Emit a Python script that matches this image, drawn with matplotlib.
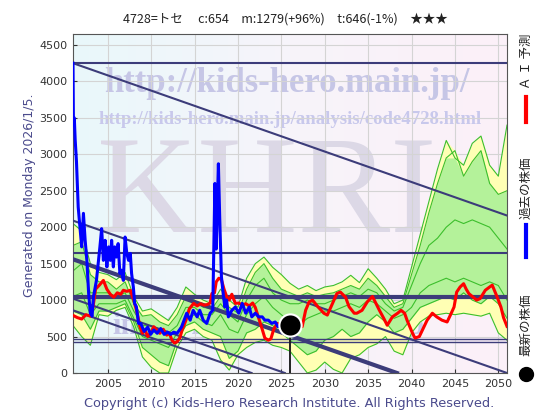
import numpy as np
import matplotlib
matplotlib.use('Agg')
import matplotlib.pyplot as plt
from matplotlib.colors import LinearSegmentedColormap
from matplotlib.lines import Line2D

# ---------------- data ----------------
title_text = "4728=トセ　 c:654　m:1279(+96%)　t:646(-1%)　★★★"
x_ticks = [2005, 2010, 2015, 2020, 2025, 2030, 2035, 2040, 2045, 2050]
y_ticks = [0, 500, 1000, 1500, 2000, 2500, 3000, 3500, 4000, 4500]

blue_x = [2001.0, 2001.05, 2001.15, 2001.25, 2001.4, 2001.6, 2001.8, 2002.0, 2002.2, 2002.4,
          2002.6, 2002.8, 2003.0, 2003.2, 2003.35, 2003.7, 2004.1, 2004.3, 2004.5, 2004.7,
          2004.9, 2005.1, 2005.3, 2005.45, 2005.65, 2005.8, 2006.0, 2006.2, 2006.4, 2006.6,
          2006.8, 2007.0, 2007.2, 2007.4, 2007.6, 2007.75, 2007.95, 2008.1, 2008.3, 2008.55,
          2008.8, 2009.2, 2009.6, 2009.95, 2010.3, 2010.7, 2011.1, 2011.5, 2011.9, 2012.25,
          2012.6, 2013.0, 2013.5, 2014.1, 2014.5, 2014.85, 2015.3, 2015.6, 2016.0, 2016.4,
          2016.8, 2017.1, 2017.35, 2017.5, 2017.75, 2017.9, 2018.1, 2018.3, 2018.5, 2018.7,
          2018.9, 2019.3, 2019.7, 2020.1, 2020.5, 2020.9, 2021.3, 2021.6, 2022.0, 2022.4,
          2022.8, 2023.1, 2023.5, 2023.9, 2024.3, 2024.6, 2025.0]
blue_y = [4250, 3400, 3500, 3200, 2900, 2275, 2000, 1730, 2190, 1820,
          1545, 1094, 820, 780, 1040, 1270, 1730, 1980, 1545, 1820,
          1455, 1730, 1545, 1820, 1455, 1730, 1590, 1775, 1365, 1410,
          1270, 1865, 1640, 1545, 1640, 1365, 1180, 955, 910, 680,
          680, 570, 630, 530, 590, 545, 610, 530, 560, 530,
          560, 545, 630, 820, 725, 860, 770, 860, 725, 680,
          820, 860, 2600, 1700, 2870, 2140, 1320, 1090, 905, 1000,
          770, 860, 905, 820, 955, 820, 905, 770, 820, 770,
          770, 725, 725, 680, 700, 635, 650]

red_x = [2001.0, 2001.5, 2002.0, 2002.5, 2003.0, 2003.3, 2003.6, 2004.0, 2004.5, 2004.9,
         2005.3, 2005.7, 2006.1, 2006.5, 2006.8, 2007.2, 2007.6, 2008.0, 2008.4, 2008.7,
         2009.0, 2009.3, 2009.6, 2010.0, 2010.3, 2010.7, 2011.0, 2011.4, 2011.8, 2012.1,
         2012.4, 2012.7, 2013.0, 2013.3, 2013.6, 2014.0, 2014.4, 2014.9, 2015.3, 2015.7,
         2016.1, 2016.5, 2016.8, 2017.0, 2017.3, 2017.5, 2017.8, 2018.1, 2018.4, 2018.7,
         2019.0, 2019.3, 2019.7, 2020.1, 2020.5, 2020.9, 2021.3, 2021.7, 2022.0, 2022.4,
         2022.8, 2023.1, 2023.5, 2023.8, 2024.1, 2024.5, 2025.0, 2025.6, 2026.2, 2026.8,
         2027.4, 2027.8, 2028.2, 2028.6, 2029.2, 2029.6, 2029.9, 2030.3, 2030.9, 2031.4,
         2031.8, 2032.4, 2032.8, 2033.4, 2033.7, 2034.3, 2034.9, 2035.5, 2035.9, 2036.3,
         2036.8, 2037.2, 2037.8, 2038.4, 2038.8, 2039.2, 2039.5, 2039.8, 2040.1, 2040.4,
         2040.9, 2041.3, 2041.8, 2042.4, 2042.9, 2043.5, 2044.1, 2044.5, 2044.9, 2045.2,
         2045.6, 2046.0, 2046.3, 2046.6, 2047.1, 2047.5, 2047.9, 2048.5, 2049.0, 2049.3,
         2049.7, 2050.0, 2050.3, 2050.6, 2051.0]
red_y = [790, 760, 740, 800, 780, 900, 1150, 1200, 1270, 1150,
         1080, 1040, 1100, 1080, 1135, 1120, 1135, 1000, 820, 640,
         545, 590, 500, 560, 635, 580, 545, 600, 520, 545,
         450, 410, 430, 480, 600, 720, 880, 955, 920, 950,
         930, 940, 960, 1090, 1100, 1250, 1300, 1280, 1150, 1050,
         1000, 1080, 955, 960, 930, 950, 920, 960, 900, 750,
         600, 480, 450, 470, 590, 680, 660, 645, 640, 635,
         635, 860, 975, 1000, 910, 860, 820, 795, 955, 1090,
         1110, 1040, 910, 820, 820, 860, 975, 1050, 955, 860,
         750, 655, 770, 820, 860, 820, 720, 635, 550, 480,
         500, 600, 725, 820, 770, 725, 700, 800, 905, 1110,
         1180, 1225, 1150, 1090, 1040, 1000, 1020, 1135, 1180, 1205,
         1090, 1000, 905, 760, 640]

green_years = list(range(2001, 2052))
green_a = [2050, 1950, 1500, 1380, 1350, 1280, 1380, 1050, 850, 880,
           800, 720, 900, 1180, 1080, 1000, 950, 1150, 1000, 900,
           1300, 1500, 1590, 1450, 1350, 1230, 1150, 1200, 1130, 1180,
           1200, 1250, 1340, 1240, 1430, 1300, 1150, 950, 1000, 1450,
           1900, 2350, 2800, 3190, 2950, 2850, 3150, 3250, 2850, 2700,
           3400]
green_b = [1750, 1800, 1350, 1250, 1250, 1150, 1250, 950, 780, 800,
           700, 650, 800, 1050, 1000, 900, 880, 1050, 900, 820,
           1150, 1380, 1500, 1300, 1150, 1100, 1050, 1100, 1050, 1080,
           1100, 1150, 1200, 1150, 1300, 1200, 1050, 900, 950, 1350,
           1750, 2200, 2600, 2950, 3050, 2700, 2900, 3050, 2600, 2450,
           2500]
green_c = [1400, 1500, 1100, 1100, 1100, 1050, 1100, 850, 650, 650,
           600, 550, 650, 900, 900, 800, 800, 950, 800, 700,
           1000, 1200, 1300, 1100, 1000, 950, 950, 1000, 950, 950,
           1000, 1050, 1100, 1050, 1150, 1100, 950, 850, 900, 1200,
           1500, 1750, 1850, 2000, 2100, 2050, 2100, 2050, 2000, 1850,
           1700]
green_d = [1050, 1100, 800, 950, 950, 950, 1000, 750, 500, 450,
           400, 350, 550, 750, 800, 700, 650, 800, 600, 550,
           800, 950, 1050, 900, 800, 700, 650, 750, 800, 850,
           850, 900, 950, 900, 1000, 950, 850, 750, 800, 900,
           1100, 1200, 1250, 1300, 1250, 1300, 1250, 1200, 1250, 1200,
           1000]
green_e = [850, 800, 600, 850, 850, 900, 950, 700, 350, 250,
           150, 100, 450, 650, 700, 600, 550, 500, 200, 300,
           550, 600, 700, 650, 550, 450, 350, 250, 300, 450,
           500, 600, 500, 550, 700, 800, 700, 550, 600, 750,
           900, 950, 1000, 1050, 1000, 1100, 1000, 950, 1050, 950,
           750]
green_f = [650, 500, 380, 800, 780, 860, 900, 630, 220, 80,
           0, 0, 350, 550, 600, 500, 450, 180, 40, 250,
           350, 420, 450, 380, 350, 300, 150, 0, 40, 150,
           50, 0, 200, 250, 350, 400, 500, 300, 250, 550,
           700, 780, 800, 820, 800, 820, 800, 780, 820, 550,
           450]

hlines = [4250, 1650, 1040, 465, 425]
hline_widths = [1.5, 1.5, 3.0, 1.0, 1.0]
diag_start_year = 2001
diag_slope = -41.8
diag_starts = [4250, 2090, 1560, 1020, 860]
diag_widths = [1.5, 1.5, 3.0, 1.5, 1.5]
latest_year = 2026.0
latest_value = 654

# ---------------- figure ----------------
plt.rcParams['font.family'] = ['DejaVu Sans']
cjk = ['Noto Sans CJK JP', 'DejaVu Sans']
navy = '#3c3c7a'
label_col = '#4a4a8c'

fig = plt.figure(figsize=(5.6, 4.2), dpi=100)
ax = fig.add_axes([73/560, 47/420, 434/560, 339/420])
X0, X1, Y0, Y1 = 2001, 2051, 0, 4650

grad = np.linspace(0, 1, 256).reshape(1, -1)
bg = LinearSegmentedColormap.from_list('bg', ['#e9f8fb', '#f7f4fa', '#fcf0f8'])
ax.imshow(grad, extent=[X0, X1, Y0, Y1], aspect='auto', cmap=bg, zorder=0)

# watermarks
wm = dict(family='Liberation Serif', ha='center', va='center', zorder=1)
ax.text(2025.6, 3970, 'http://kids-hero.main.jp/', fontsize=25, fontweight='bold', color='#c6c6e6', **wm)
ax.text(2026.0, 3480, 'http://kids-hero.main.jp/analysis/code4728.html', fontsize=13.5, fontweight='bold',
        color='#c8c8ec', **wm)
ax.text(2023.3, 2400, 'KHRI', fontsize=100, color='#dcd8e6', **wm)
ax.text(2023.5, 640, 'info@kids-hero.main.jp', fontsize=22, fontweight='bold', color='#c6c6e6', **wm)

# green ensemble
G = np.array([green_a, green_b, green_c, green_d, green_e, green_f], dtype=float)
Gs = np.sort(G, axis=0)
ax.fill_between(green_years, Gs[0], Gs[-1], color='#ffffb4', lw=0, zorder=2)
ax.fill_between(green_years, Gs[1], Gs[-2], color='#b4f29a', lw=0, zorder=2.1)
for g in G:
    ax.plot(green_years, g, color='#3cbf2c', lw=0.8, zorder=2.5)

# navy lines
for v, w in zip(hlines, hline_widths):
    ax.plot([X0, X1], [v, v], color=navy, lw=w, zorder=3, solid_capstyle='butt')
for s, w in zip(diag_starts, diag_widths):
    end_year = min(X1, diag_start_year - s / diag_slope)
    ax.plot([diag_start_year, end_year], [s, s + diag_slope * (end_year - diag_start_year)],
            color=navy, lw=w, zorder=3)

ax.plot(red_x, red_y, color='#ff0000', lw=2.2, zorder=4)
ax.plot(blue_x, blue_y, color='#0000ff', lw=2.2, zorder=5)

ax.plot([latest_year, latest_year], [0, latest_value], color='#222222', lw=1.4, zorder=6)
ax.plot([latest_year], [latest_value], 'o', ms=16, mfc='black', mec='white', mew=1.5, zorder=7)

ax.set_xlim(X0, X1)
ax.set_ylim(Y0, Y1)
ax.set_xticks(x_ticks)
ax.set_yticks(y_ticks)
ax.grid(True, color='#d4d4d4', lw=0.8)
ax.tick_params(direction='in', length=3, labelsize=8, colors='#333333', pad=4)
for sp in ax.spines.values():
    sp.set_color('#555555')
    sp.set_linewidth(0.8)

# texts
fig.text(285/560, 1 - 19/420, title_text, ha='center', va='center', fontsize=9,
         family=cjk, color='#222222')
fig.text(30/560, 1 - 195/420, 'Generated on Monday 2026/1/5.', rotation=90,
         ha='center', va='center', fontsize=9, color=label_col)
fig.text(289/560, 1 - 404/420, 'Copyright (c) Kids-Hero Research Institute. All Rights Reserved.',
         ha='center', va='center', fontsize=9.3, color=label_col)

lx = 526/560
fig.text(lx, 1 - 61/420, 'Ａ Ｉ 予測', rotation=90, ha='center', va='center', fontsize=9, family=cjk, color='#222222')
fig.add_artist(Line2D([lx, lx], [1 - 97/420, 1 - 122/420], color='#ff0000', lw=3))
fig.text(lx, 1 - 188/420, '過去の株価', rotation=90, ha='center', va='center', fontsize=9, family=cjk, color='#222222')
fig.add_artist(Line2D([lx, lx], [1 - 225/420, 1 - 257/420], color='#0000ff', lw=3))
fig.text(lx, 1 - 325/420, '最新の株価', rotation=90, ha='center', va='center', fontsize=9, family=cjk, color='#222222')
fig.add_artist(Line2D([lx], [1 - 374/420], marker='o', ms=10, color='black', lw=0))

fig.savefig('out.png', dpi=100)
